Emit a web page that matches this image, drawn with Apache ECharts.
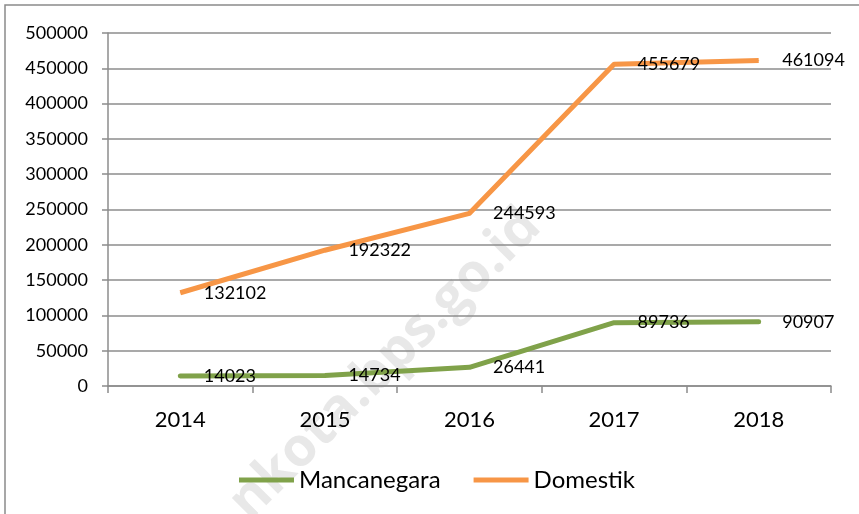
<!DOCTYPE html>
<html>
<head>
<meta charset="utf-8">
<script src="https://cdn.jsdelivr.net/npm/echarts@6/dist/echarts.min.js"></script>
<style>html,body{margin:0;padding:0;background:#fff}#c{width:859px;height:514px}</style>
</head>
<body>
<div id="c"></div>
<script>
const years = ['2014', '2015', '2016', '2017', '2018'];
const mancanegara = [14023, 14734, 26441, 89736, 90907];
const domestik = [132102, 192322, 244593, 455679, 461094];
const seriesNames = ['Mancanegara', 'Domestik'];

const FONT = 'Lato';
const chart = echarts.init(document.getElementById('c'), null, {renderer: 'canvas'});
function lbl() {
  return {show: true, position: 'right', distance: 23, color: '#000', fontFamily: FONT, fontSize: 18,
          formatter: p => String(p.value)};
}
chart.setOption({
  animation: false,
  textStyle: {fontFamily: FONT},
  graphic: [
    {type: 'rect', shape: {x: 5, y: 5, width: 900, height: 600}, style: {fill: 'none', stroke: '#8a8a8a', lineWidth: 1.5}, z: -10},
    {type: 'text', x: 258, y: 530, rotation: Math.PI / 4, style: {text: 'nkota.bps.go.id', fill: 'rgba(190,190,190,0.35)', font: 'bold 54px "Open Sans"', textVerticalAlign: 'bottom'}, z: -5}
  ],
  grid: {left: 108, right: 28, top: 33, bottom: 128},
  legend: {
    data: seriesNames, left: 234, top: 463, icon: 'rect', itemWidth: 55, itemHeight: 5, itemGap: 33,
    textStyle: {fontFamily: FONT, fontSize: 24, color: '#000'}
  },
  xAxis: {
    type: 'category', data: years, boundaryGap: true,
    axisLine: {lineStyle: {color: '#8c8c8c', width: 1.5}},
    axisTick: {show: true, length: 7, lineStyle: {color: '#8c8c8c', width: 1.5}},
    axisLabel: {fontFamily: FONT, fontSize: 22, color: '#000', margin: 23}
  },
  yAxis: {
    type: 'value', min: 0, max: 500000, interval: 50000,
    axisLine: {show: true, lineStyle: {color: '#8c8c8c', width: 1.5}},
    axisTick: {show: true, length: 6, lineStyle: {color: '#8c8c8c', width: 1.5}},
    splitLine: {lineStyle: {color: '#8c8c8c', width: 1.5}},
    axisLabel: {fontFamily: FONT, fontSize: 18, color: '#000', margin: 20, formatter: v => String(v)}
  },
  series: [
    {name: seriesNames[0], type: 'line', data: mancanegara, symbol: 'circle', symbolSize: 1, showSymbol: true,
     itemStyle: {color: '#80A24A'}, lineStyle: {color: '#80A24A', width: 5, cap: 'round', join: 'round'},
     label: lbl(), z: 3},
    {name: seriesNames[1], type: 'line', data: domestik, symbol: 'circle', symbolSize: 1, showSymbol: true,
     itemStyle: {color: '#F79646'}, lineStyle: {color: '#F79646', width: 5, cap: 'butt', join: 'round'},
     label: lbl(), z: 3}
  ]
});
</script>
</body>
</html>
